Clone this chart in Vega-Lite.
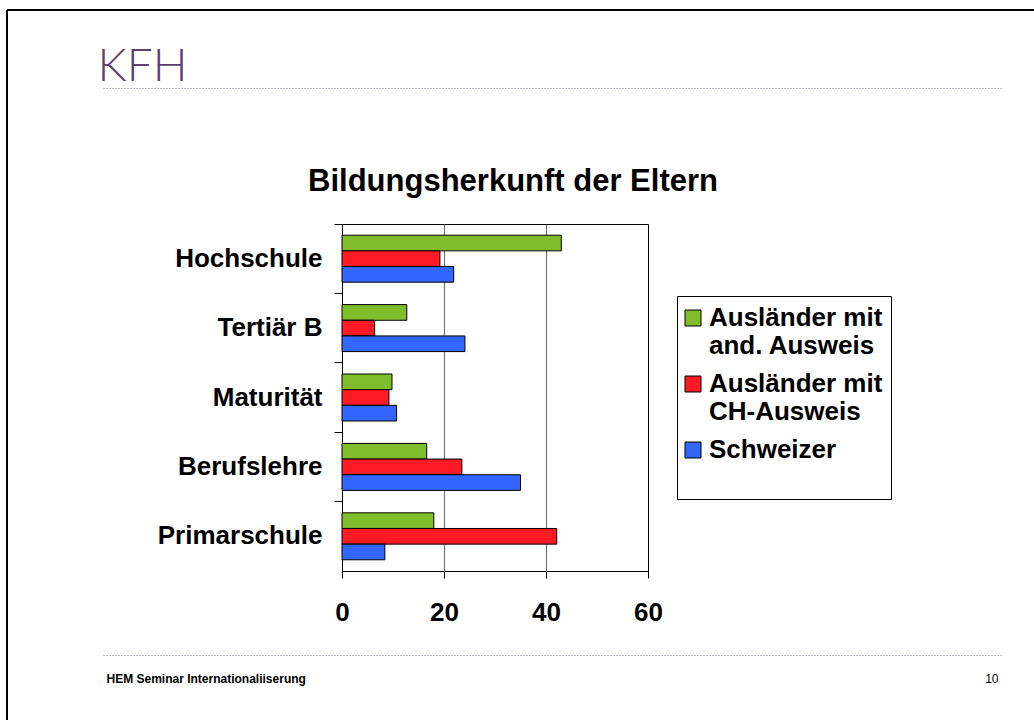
{
  "$schema": "https://vega.github.io/schema/vega-lite/v6.json",
  "width": 1027,
  "height": 710,
  "autosize": {"type": "none"},
  "padding": {"left": 7, "top": 10, "right": 0, "bottom": 0},
  "background": "white",
  "config": {
    "font": "Liberation Sans",
    "view": {"stroke": "#000", "strokeWidth": 2, "strokeDash": [1027, 1737, 710, 0]}
  },
  "data": {
    "values": [
      {"Bildung": "Hochschule", "Gruppe": "Ausländer mit and. Ausweis", "Anteil": 43.0},
      {"Bildung": "Hochschule", "Gruppe": "Ausländer mit CH-Ausweis", "Anteil": 19.2},
      {"Bildung": "Hochschule", "Gruppe": "Schweizer", "Anteil": 21.9},
      {"Bildung": "Tertiär B", "Gruppe": "Ausländer mit and. Ausweis", "Anteil": 12.7},
      {"Bildung": "Tertiär B", "Gruppe": "Ausländer mit CH-Ausweis", "Anteil": 6.4},
      {"Bildung": "Tertiär B", "Gruppe": "Schweizer", "Anteil": 24.1},
      {"Bildung": "Maturität", "Gruppe": "Ausländer mit and. Ausweis", "Anteil": 9.8},
      {"Bildung": "Maturität", "Gruppe": "Ausländer mit CH-Ausweis", "Anteil": 9.2},
      {"Bildung": "Maturität", "Gruppe": "Schweizer", "Anteil": 10.7},
      {"Bildung": "Berufslehre", "Gruppe": "Ausländer mit and. Ausweis", "Anteil": 16.6},
      {"Bildung": "Berufslehre", "Gruppe": "Ausländer mit CH-Ausweis", "Anteil": 23.5},
      {"Bildung": "Berufslehre", "Gruppe": "Schweizer", "Anteil": 35.0},
      {"Bildung": "Primarschule", "Gruppe": "Ausländer mit and. Ausweis", "Anteil": 18.0},
      {"Bildung": "Primarschule", "Gruppe": "Ausländer mit CH-Ausweis", "Anteil": 42.1},
      {"Bildung": "Primarschule", "Gruppe": "Schweizer", "Anteil": 8.4}
    ]
  },
  "resolve": {"scale": {"x": "independent"}},
  "layer": [
    {
      "mark": {"type": "bar", "stroke": "#000", "strokeWidth": 1},
      "encoding": {
        "y": {
          "field": "Bildung", "type": "nominal",
          "sort": ["Hochschule", "Tertiär B", "Maturität", "Berufslehre", "Primarschule"],
          "scale": {"range": [214, 561], "paddingInner": 0.323, "paddingOuter": 0.1615},
          "axis": {
            "orient": "left", "offset": -335, "bandPosition": -0.2383, "tickSize": 8,
            "tickColor": "#000", "domainColor": "#000", "grid": false,
            "labelFontSize": 26, "labelFontWeight": "bold", "labelColor": "#000",
            "labelPadding": 12, "title": null
          }
        },
        "x": {
          "field": "Anteil", "type": "quantitative",
          "scale": {"domain": [0, 60], "range": [335, 641], "nice": false},
          "axis": {
            "orient": "bottom", "offset": -149, "values": [0, 20, 40, 60], "grid": false,
            "tickSize": 7, "tickColor": "#000", "domainColor": "#000",
            "labelFontSize": 26, "labelFontWeight": "bold", "labelColor": "#000",
            "labelBaseline": "alphabetic", "labelPadding": 42, "labelFlush": false, "title": null
          }
        },
        "yOffset": {
          "field": "Gruppe", "type": "nominal",
          "sort": ["Ausländer mit and. Ausweis", "Ausländer mit CH-Ausweis", "Schweizer"],
          "scale": {"paddingInner": 0, "paddingOuter": 0}
        },
        "color": {
          "field": "Gruppe", "type": "nominal",
          "scale": {
            "domain": ["Ausländer mit and. Ausweis", "Ausländer mit CH-Ausweis", "Schweizer"],
            "range": ["#80BD2D", "#FF1A26", "#3366FF"]
          },
          "legend": {
            "orient": "none", "legendX": 670, "legendY": 286,
            "title": " ", "titleFontSize": 6, "titlePadding": 3,
            "symbolType": "M-1,-2H1V0H-1Z", "symbolSize": 256, "symbolStrokeColor": "#000",
            "symbolStrokeWidth": 1, "symbolOpacity": 1, "symbolOffset": -5,
            "labelFontSize": 26, "labelFontWeight": "bold", "labelColor": "#000",
            "labelLimit": 400, "labelOffset": 3, "labelBaseline": "alphabetic",
            "labelExpr": "datum.label == 'Schweizer' ? ['Schweizer', ''] : split(replace(datum.label, ' mit ', ' mit|'), '|')",
            "rowPadding": 12, "padding": 8,
            "strokeColor": "#000", "fillColor": "#fff"
          }
        }
      }
    },
    {
      "mark": {"type": "point", "opacity": 0},
      "encoding": {
        "x": {
          "field": "Anteil", "type": "quantitative",
          "scale": {"domain": [0, 60], "range": [335, 641], "nice": false},
          "axis": {
            "orient": "top", "offset": -214, "values": [20, 40], "labels": false,
            "ticks": true, "tickSize": -347, "tickColor": "#777777", "tickWidth": 1.2,
            "domainColor": "#000", "grid": false,
            "title": "Bildungsherkunft der Eltern", "titleX": 505.5, "titleY": -34,
            "titleAlign": "center", "titleBaseline": "alphabetic", "titleAngle": 0,
            "titleFontSize": 31, "titleFontWeight": "bold", "titleColor": "#000"
          }
        },
        "y": {
          "field": "Bildung", "type": "nominal",
          "sort": ["Hochschule", "Tertiär B", "Maturität", "Berufslehre", "Primarschule"],
          "axis": {
            "orient": "right", "offset": -386, "labels": false, "ticks": false,
            "domainColor": "#000", "grid": false,
            "title": "10", "titleX": 350, "titleY": 672.7, "titleAlign": "right",
            "titleBaseline": "alphabetic", "titleAngle": 0, "titleFontSize": 12,
            "titleFontWeight": "normal", "titleColor": "#000"
          }
        }
      }
    },
    {
      "mark": {"type": "point", "opacity": 0},
      "encoding": {
        "x": {
          "field": "Anteil", "type": "quantitative",
          "scale": {"domain": [0, 60], "range": [96, 996], "nice": false},
          "axis": {
            "orient": "top", "offset": -78, "labels": false, "ticks": false, "grid": false,
            "domainColor": "#7A6A8A", "domainDash": [1, 2], "domainWidth": 1,
            "title": "KFH", "titleX": 90, "titleY": -8, "titleAlign": "left",
            "titleBaseline": "alphabetic", "titleAngle": 0, "titleFont": "Lato",
            "titleFontWeight": 300, "titleFontSize": 46, "titleColor": "#5C3F70"
          }
        }
      }
    },
    {
      "mark": {"type": "point", "opacity": 0},
      "encoding": {
        "x": {
          "field": "Anteil", "type": "quantitative",
          "scale": {"domain": [0, 60], "range": [96, 996], "nice": false},
          "axis": {
            "orient": "bottom", "offset": -65, "labels": false, "ticks": false, "grid": false,
            "domainColor": "#7A6A8A", "domainDash": [1, 2], "domainWidth": 1,
            "title": "HEM Seminar Internationaliiserung", "titleX": 99, "titleY": 27.3,
            "titleAlign": "left", "titleBaseline": "alphabetic", "titleAngle": 0,
            "titleFontSize": 12, "titleFontWeight": "bold", "titleColor": "#000"
          }
        }
      }
    }
  ]
}
